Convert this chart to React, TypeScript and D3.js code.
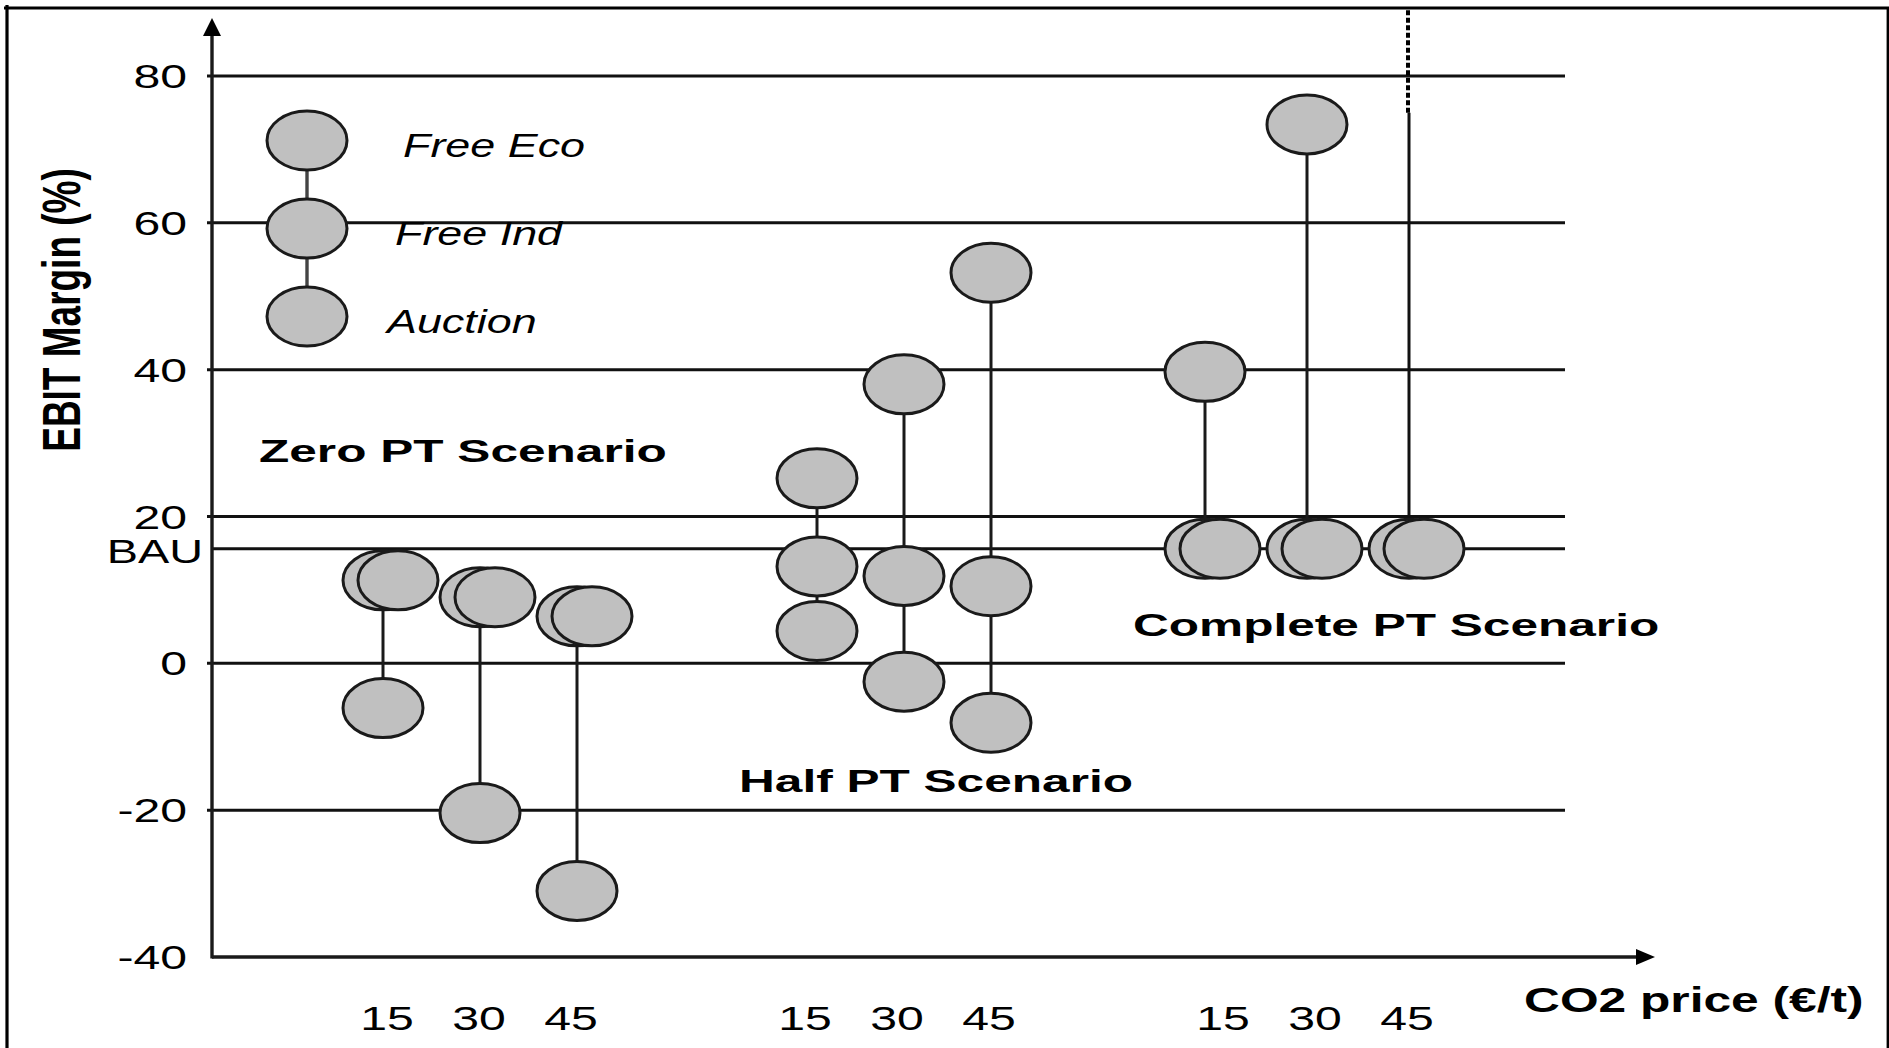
import React from 'react';
import * as d3 from 'd3';

// ---------------- DATA ----------------
const scenarios = ['Zero PT Scenario', 'Half PT Scenario', 'Complete PT Scenario'];
const co2Prices = [15, 30, 45];
const allocationMethods = ['Free Eco', 'Free Ind', 'Auction'];
const yTicks = [-40, -20, 0, 20, 40, 60, 80];
const bauLabel = 'BAU';
const bauMargin = 15.6;

// EBIT margin (%) per CO2 price (15, 30, 45 €/t)
const zeroPT_freeEco = [11.3, 9.0, 6.4];
const zeroPT_freeInd = [11.3, 9.0, 6.4];
const zeroPT_auction = [-6.1, -20.4, -31.0];
const halfPT_freeEco = [25.2, 38.0, 53.2];
const halfPT_freeInd = [13.2, 11.9, 10.5];
const halfPT_auction = [4.4, -2.5, -8.1];
const completePT_freeEco = [39.7, 73.4, 95]; // 45 €/t value lies beyond the axis
const completePT_freeInd = [15.6, 15.6, 15.6];
const completePT_auction = [15.6, 15.6, 15.6];

const seriesByScenario = [
  [zeroPT_freeEco, zeroPT_freeInd, zeroPT_auction],
  [halfPT_freeEco, halfPT_freeInd, halfPT_auction],
  [completePT_freeEco, completePT_freeInd, completePT_auction],
];

const yTitle = 'EBIT Margin (%)';
const xTitle = 'CO2 price (€/t)';

// ---------------- LAYOUT ----------------
const W = 1889;
const H = 1048;
const FONT = "'Liberation Sans', Arial, Helvetica, sans-serif";
const INK = '#111';
const FILL = '#c0c0c0';
const RX = 40;
const RY = 29.5;
const OVERLAP_DX = 15;
const BREAK_VALUE = 75; // stem of off-scale value becomes dashed above this

const frame = { top: 8, left: 7, right: 1888 };
const axisX = 212;
const axisTop = 18;
const xAxisEnd = 1655;
const gridEnd = 1565;

const yScale = d3.scaleLinear().domain([-40, 80]).range([957, 76]);
// positions of the marks (hand-drawn diagram: each scenario block has its own spread)
const xGroup = d3.scaleOrdinal<string, number>().domain(scenarios).range([480, 904, 1307]);
const xSpread = d3.scaleOrdinal<string, number>().domain(scenarios).range([97, 87, 102]);
const xPrice = d3.scalePoint<number>().domain(co2Prices).range([-1, 1]);
// positions of the category labels under the axis
const xLabelGroup = d3.scalePoint<string>().domain(scenarios).range([479, 1315]);
const xLabelPrice = d3.scalePoint<number>().domain(co2Prices).range([-92, 92]);
const colX = (s: string, p: number) => xGroup(s) + xSpread(s) * (xPrice(p) as number);
const labelX = (s: string, p: number) => (xLabelGroup(s) as number) + (xLabelPrice(p) as number);
const legendY = d3.scalePoint<string>().domain(allocationMethods).range([140.5, 316.5]);

const scenarioLabelPos = [
  { x: 259, y: 462 },
  { x: 739, y: 792 },
  { x: 1133, y: 636 },
];

function SText(props: {
  x: number; y: number; sx: number; size: number; anchor?: string;
  weight?: string | number; italic?: boolean; children: React.ReactNode;
}) {
  const { x, y, sx, size, anchor = 'start', weight = 'normal', italic = false, children } = props;
  return (
    <text
      transform={`translate(${x},${y}) scale(${sx},1)`}
      textAnchor={anchor as any}
      fontSize={size}
      fontWeight={weight as any}
      fontStyle={italic ? 'italic' : 'normal'}
      fontFamily={FONT}
      fill="#000"
    >
      {children}
    </text>
  );
}

export default function App() {
  const y0 = yScale(-40);
  const yMax = yScale.domain()[1];

  const columns: any[] = [];
  scenarios.forEach((s, si) => {
    co2Prices.forEach((p, pi) => {
      const vals = seriesByScenario[si].map((arr) => arr[pi]);
      const x = colX(s, p);
      const pts = vals.map((v, mi) => {
        let count = 0;
        for (let k = 0; k < mi; k++) if (Math.abs(vals[k] - v) < 0.5) count++;
        return { v, method: allocationMethods[mi], x: x + count * OVERLAP_DX, off: v > yMax };
      });
      columns.push({ s, p, x, lx: labelX(s, p), pts, vals });
    });
  });

  return (
    <svg
      width={W}
      height={H}
      viewBox={`0 0 ${W} ${H}`}
      style={{ position: 'absolute', left: 0, top: 0, background: '#fff' }}
    >
      <rect x={0} y={0} width={W} height={H} fill="#fff" />
      {/* frame */}
      <line x1={frame.left - 3} x2={W} y1={frame.top} y2={frame.top} stroke="#000" strokeWidth={3.2} />
      <line x1={frame.left} x2={frame.left} y1={frame.top - 3} y2={H} stroke="#000" strokeWidth={3.2} />
      <line x1={frame.right} x2={frame.right} y1={frame.top} y2={H} stroke="#000" strokeWidth={2.8} />

      {/* gridlines */}
      {yTicks.filter((t) => t > -40).map((t) => (
        <line key={t} x1={axisX - 5} x2={gridEnd} y1={yScale(t)} y2={yScale(t)} stroke={INK} strokeWidth={3} />
      ))}
      <line x1={axisX} x2={gridEnd} y1={yScale(bauMargin)} y2={yScale(bauMargin)} stroke={INK} strokeWidth={3} />

      {/* y tick labels */}
      {yTicks.map((t) => (
        <SText key={t} x={187} y={yScale(t) + 12} sx={1.46} size={33} anchor="end">{t}</SText>
      ))}
      <SText x={203} y={yScale(bauMargin) + 14} sx={1.42} size={33} anchor="end">{bauLabel}</SText>

      {/* axes */}
      <line x1={axisX} x2={axisX} y1={y0 + 1.5} y2={axisTop + 14} stroke="#1a1a1a" strokeWidth={3.4} />
      <polygon points={`${axisX},${axisTop} ${axisX - 9},${axisTop + 18} ${axisX + 9},${axisTop + 18}`} fill="#000" />
      <line x1={axisX} x2={xAxisEnd - 14} y1={y0} y2={y0} stroke="#1a1a1a" strokeWidth={3.4} />
      <polygon points={`${xAxisEnd},${y0} ${xAxisEnd - 19},${y0 - 8} ${xAxisEnd - 19},${y0 + 8}`} fill="#000" />

      {/* stems */}
      {columns.map((c, i) => {
        const onScale = c.pts.filter((d: any) => !d.off).map((d: any) => d.v);
        const hasOff = c.pts.some((d: any) => d.off);
        const lo = d3.min(onScale) as number;
        const hi = d3.max(onScale) as number;
        return (
          <g key={'stem' + i}>
            {hasOff ? (
              <>
                <line x1={c.x} x2={c.x} y1={yScale(lo)} y2={yScale(BREAK_VALUE)} stroke="#111" strokeWidth={3} />
                <line x1={c.x - 1} x2={c.x - 1} y1={yScale(BREAK_VALUE)} y2={frame.top} stroke="#000" strokeWidth={4} strokeDasharray="5 2.5" />
              </>
            ) : (
              <line x1={c.x} x2={c.x} y1={yScale(lo)} y2={yScale(hi)} stroke="#1a1a1a" strokeWidth={3} />
            )}
          </g>
        );
      })}

      {/* circles */}
      {columns.map((c, i) => (
        <g key={'pts' + i}>
          {c.pts.filter((d: any) => !d.off).map((d: any, j: number) => (
            <ellipse key={j} cx={d.x} cy={yScale(d.v)} rx={RX} ry={RY} fill={FILL} stroke="#1a1a1a" strokeWidth={3} />
          ))}
        </g>
      ))}

      {/* x tick labels */}
      {columns.map((c, i) => (
        <SText key={'xl' + i} x={c.lx} y={1030} sx={1.46} size={33} anchor="middle">{c.p}</SText>
      ))}

      {/* legend */}
      <line
        x1={307} x2={307}
        y1={legendY(allocationMethods[0]) as number}
        y2={legendY(allocationMethods[allocationMethods.length - 1]) as number}
        stroke="#444" strokeWidth={3.4}
      />
      {allocationMethods.map((m, i) => (
        <g key={m}>
          <ellipse cx={307} cy={legendY(m) as number} rx={RX} ry={RY} fill={FILL} stroke="#1a1a1a" strokeWidth={3} />
          <SText x={403 - 8 * i} y={(legendY(m) as number) + 16} sx={1.36} size={33} italic>{m}</SText>
        </g>
      ))}

      {/* scenario labels */}
      {scenarios.map((s, i) => (
        <SText key={s} x={scenarioLabelPos[i].x} y={scenarioLabelPos[i].y} sx={1.55} size={32} weight="bold">{s}</SText>
      ))}

      {/* axis titles */}
      <SText x={1524} y={1012} sx={1.42} size={35} weight="bold">{xTitle}</SText>
      <text
        transform={`translate(80,310) scale(1.43,1) rotate(-90)`}
        textAnchor="middle"
        fontSize={37}
        fontWeight="bold"
        fontFamily={FONT}
        fill="#000"
      >
        {yTitle}
      </text>
    </svg>
  );
}
